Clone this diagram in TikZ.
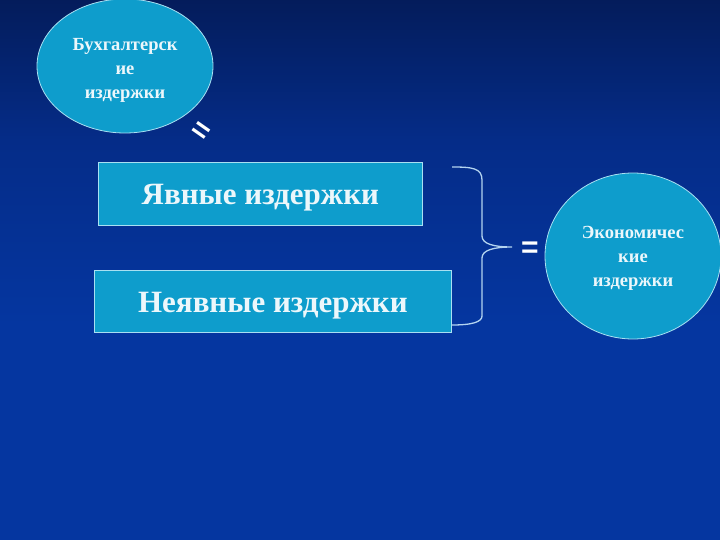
\documentclass[tikz,border=0pt]{standalone}
\usepackage{fontspec}
\setmainfont{Liberation Serif}
\newfontfamily\eqfont{Liberation Sans}
\usetikzlibrary{shapes.geometric}
\definecolor{bgtop}{HTML}{01040F}
\definecolor{bgmidA}{HTML}{03164A}
\definecolor{bgmid}{HTML}{052C88}
\definecolor{bgbot}{HTML}{0536A0}
\definecolor{shapefill}{HTML}{0E9DCC}
\definecolor{shapeline}{HTML}{A9E0F2}
\definecolor{txt}{HTML}{ECF7FB}
\definecolor{bracecol}{HTML}{B4D4F0}
\pgfdeclareverticalshading{bgshade}{100bp}{color(0bp)=(bgbot); color(45bp)=(bgbot); color(62bp)=(bgmid); color(80bp)=(bgmidA); color(100bp)=(bgtop)}
\tikzset{
  boxnode/.style={draw=shapeline, line width=0.8pt, fill=shapefill, inner sep=0pt, anchor=north west},
  boxtext/.style={text=txt, font=\bfseries\fontsize{31}{34}\selectfont, inner sep=0pt},
  ovalnode/.style={ellipse, draw=shapeline, line width=0.8pt, fill=shapefill, inner sep=0pt},
  ovaltext/.style={text=txt, font=\bfseries\fontsize{18.5}{24}\selectfont, align=center, inner sep=0pt},
  eqsign/.style={text=white, font=\eqfont\bfseries\fontsize{30}{30}\selectfont, inner sep=0pt},
  bracestyle/.style={draw=bracecol, line width=1.3pt}
}
\begin{document}
\begin{tikzpicture}[x=1pt,y=-1pt]
\useasboundingbox (0,0) rectangle (720,540);
\fill[shading=bgshade] (0,0) rectangle (720,540);

\node[ovalnode, minimum width=176pt, minimum height=134pt] (bux) at (125,66) {};
\node[ovaltext] (buxt) at (125,70) {Бухгалтерск\\ие\\издержки};
\node[eqsign, rotate=-35] (eq1) at (200,132) {=};

\node[boxnode, minimum width=324pt, minimum height=63pt] (yav) at (98,162) {};
\node[boxtext] (yavt) at ([yshift=-4pt]yav.center) {Явные издержки};
\node[boxnode, minimum width=357pt, minimum height=62pt] (neyav) at (94,270) {};
\node[boxtext] (neyavt) at ([yshift=-4pt]neyav.center) {Неявные издержки};

\coordinate (btop) at (452,167);
\coordinate (bbot) at (452,325);
\coordinate (btip) at (512,247);
\draw[bracestyle] (btop) .. controls (472,167) and (482,168) .. (482,180)
  -- (482,236) .. controls (482,244) and (494,247) .. (btip)
  .. controls (494,247) and (482,250) .. (482,258)
  -- (482,316) .. controls (482,322) and (472,325) .. (bbot);

\node[eqsign] (eq2) at (530,250) {=};

\node[ovalnode, minimum width=176pt, minimum height=166pt] (eco) at (633,256) {};
\node[ovaltext] (ecot) at (633,258) {Экономичес\\кие\\издержки};
\end{tikzpicture}
\end{document}
